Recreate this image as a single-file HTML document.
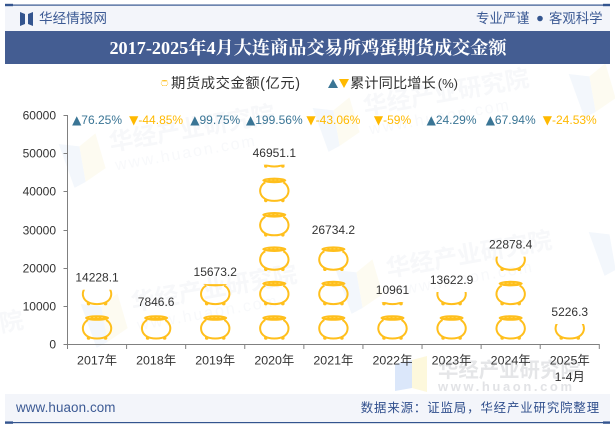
<!DOCTYPE html>
<html lang="zh-CN">
<head>
<meta charset="utf-8">
<title>2017-2025年4月大连商品交易所鸡蛋期货成交金额</title>
<style>
html,body{margin:0;padding:0;background:#fff;}
body{width:615px;height:427px;overflow:hidden;}
svg{display:block;}
text{font-family:"Liberation Sans","Noto Sans CJK SC",sans-serif;}
.wm{font-weight:bold;font-size:24px;fill:#f7f8fa;}
.wm2{font-size:16px;letter-spacing:2px;fill:#f8f9fb;}
</style>
</head>
<body>
<svg id="chart" width="615" height="427" viewBox="0 0 615 427" xmlns="http://www.w3.org/2000/svg">
  <g id="watermarks">
    <g transform="translate(58,140) rotate(-10)">
      <path d="M0 4 L20 10 L20 46 L8 50 Z" fill="#f3f7fc"/><path d="M20 10 L38 0 L42 36 L20 46 Z" fill="#fdfbf1"/>
      <text class="wm" x="50" y="20">华经产业研究院</text><text class="wm2" x="52" y="40">www.huaon.com</text>
    </g>
    <g transform="translate(80,300) rotate(-10)">
      <path d="M0 4 L20 10 L20 46 L8 50 Z" fill="#f3f7fc"/><path d="M20 10 L38 0 L42 36 L20 46 Z" fill="#fdfbf1"/>
      <text class="wm" x="50" y="20">华经产业研究院</text><text class="wm2" x="52" y="40">www.huaon.com</text>
    </g>
    <g transform="translate(312,104) rotate(-10)">
      <path d="M0 4 L20 10 L20 46 L8 50 Z" fill="#f3f7fc"/><path d="M20 10 L38 0 L42 36 L20 46 Z" fill="#fdfbf1"/>
      <text class="wm" x="50" y="20">华经产业研究院</text><text class="wm2" x="52" y="40">www.huaon.com</text>
    </g>
    <g transform="translate(335,266) rotate(-10)">
      <path d="M0 4 L20 10 L20 46 L8 50 Z" fill="#f3f7fc"/><path d="M20 10 L38 0 L42 36 L20 46 Z" fill="#fdfbf1"/>
      <text class="wm" x="50" y="20">华经产业研究院</text><text class="wm2" x="52" y="40">www.huaon.com</text>
    </g>
    <g transform="translate(568,70) rotate(-10)">
      <path d="M0 4 L20 10 L20 46 L8 50 Z" fill="#f3f7fc"/><path d="M20 10 L38 0 L42 36 L20 46 Z" fill="#fdfbf1"/>
    </g>
    <g transform="translate(588,228) rotate(-10)">
      <path d="M0 4 L20 10 L20 46 L8 50 Z" fill="#f3f7fc"/>
    </g>
    <text class="wm" x="1" y="332" transform="rotate(-10 1 332)">院</text>
    <g>
      <path d="M395 364 L412 360 L412 388 L395 391 Z" fill="#dbe7fa"/>
      <path d="M412 360 L427 356 L427 392 L412 388 Z" fill="#fdf8dc"/>
      <text x="438" y="377" font-size="20.4" font-weight="bold" fill="#e5e6e8">华经产业研究院</text>
      <text x="438" y="391" font-size="13" font-weight="bold" fill="#e2e3e6" letter-spacing="2.6">www.huaon.com</text>
    </g>
  </g>

  <g>
    <rect x="5" y="5" width="605" height="26" fill="#f3f5fa"/>
    <rect x="5" y="4.5" width="605" height="1.2" fill="#34558f"/>
    <rect x="5" y="3.8" width="8" height="2.4" fill="#34558f"/>
    <rect x="603" y="3.8" width="7" height="2.4" fill="#34558f"/>
    <path d="M20 12 L25 14 L25 24 L20 26 Z M33 12 L28 14 L28 24 L33 26 Z" fill="#34558f"/>
    <text x="39" y="23" font-size="13.6" fill="#3c5a94">华经情报网</text>
    <text x="476" y="23" font-size="13.4" fill="#3c5a94">专业严谨</text>
    <circle cx="540" cy="18.5" r="2.8" fill="#34558f"/>
    <text x="549" y="23" font-size="13.4" fill="#3c5a94">客观科学</text>
  </g>
  <rect x="5" y="31" width="605" height="33" fill="#445d92"/>
  <text x="308" y="54" text-anchor="middle" font-size="18.2" font-weight="bold" fill="#fff" style="font-family:'Liberation Serif','Noto Serif CJK SC',serif">2017-2025年4月大连商品交易所鸡蛋期货成交金额</text>

  <g>
    <rect x="5" y="394" width="605" height="28" fill="#f3f5fa"/>
    <rect x="5" y="422" width="605" height="1.2" fill="#34558f"/>
    <rect x="5" y="421.4" width="8" height="2.4" fill="#34558f"/>
    <rect x="603" y="421.4" width="7" height="2.4" fill="#34558f"/>
    <text x="16" y="412" font-size="13.4" letter-spacing="0.1" fill="#3c5a94">www.huaon.com</text>
    <text x="600" y="412" text-anchor="end" font-size="12.4" fill="#2f4e8c" letter-spacing="0.9">数据来源：证监局，华经产业研究院整理</text>
  </g>

  <g>
    <g>
      <g id="legend-pot"></g>
      <text x="171" y="88" font-size="14.3" fill="#333" textLength="129" lengthAdjust="spacing">期货成交金额(亿元)</text>
    </g>
    <g>
      <path d="M328 88 L333 79 L338 88 Z" fill="#3a7595"/>
      <path d="M339 79 L349 79 L344 88 Z" fill="#ffb900"/>
      <text x="350" y="88" font-size="14.3" fill="#333">累计同比增长<tspan font-size="13" dx="2">(%)</tspan></text>
    </g>
  </g>

  <g id="plot"></g>
</svg>
<script>
var categories = ["2017年","2018年","2019年","2020年","2021年","2022年","2023年","2024年","2025年"];
var categorySub = ["","","","","","","","","1-4月"];
var turnover = [14228.1,7846.6,15673.2,46951.1,26734.2,10961,13622.9,22878.4,5226.3];
var growth = [76.25,-44.85,99.75,199.56,-43.06,-59,24.29,67.94,-24.53];
var yTicks = [0,10000,20000,30000,40000,50000,60000];

var NS = "http://www.w3.org/2000/svg";
var plot = document.getElementById("plot");
var left = 67.5, right = 599.3, top0 = 115, bottom0 = 344, yMax = 60000;
var POT_STEP = 34.4, GOLD = "#ffbf1c", AXIS = "#808080", INK = "#333333";

function xBand(i){ return left + (right - left) / categories.length * i; }
function xCenter(i){ return xBand(i + 0.5); }
function yScale(v){ return bottom0 - (bottom0 - top0) * v / yMax; }
function make(tag, attrs, parent){
  var el = document.createElementNS(NS, tag);
  for (var k in attrs) el.setAttribute(k, attrs[k]);
  (parent || plot).appendChild(el);
  return el;
}
function drawPot(parent, cx, y, s){
  make("path",{d:"M"+(cx-9*s)+" "+(y+5*s)+" C"+(cx-17*s)+" "+(y+9*s)+" "+(cx-17*s)+" "+(y+23.5*s)+" "+cx+" "+(y+23.5*s)+" C"+(cx+17*s)+" "+(y+23.5*s)+" "+(cx+17*s)+" "+(y+9*s)+" "+(cx+9*s)+" "+(y+5*s),fill:"none",stroke:GOLD,"stroke-width":2*s},parent);
  make("ellipse",{cx:cx,cy:y+3*s,rx:12*s,ry:2.8*s,fill:GOLD},parent);
  make("line",{x1:cx-8*s,x2:cx+8*s,y1:y+2.6*s,y2:y+2.6*s,stroke:"#ffd75e","stroke-width":0.8*s,"stroke-dasharray":(2*s)+" "+(2*s)},parent);
  make("circle",{cx:cx-8.5*s,cy:y+23*s,r:1.8*s,fill:GOLD},parent);
  make("circle",{cx:cx+8.5*s,cy:y+23*s,r:1.8*s,fill:GOLD},parent);
}

var legendPot = document.getElementById("legend-pot");
drawPot(legendPot, 164.5, 80, 0.24);

var defs = make("defs",{});
categories.forEach(function(c,i){
  var v = turnover[i], topY = yScale(v);
  var clip = make("clipPath",{id:"clip-"+i},defs);
  make("rect",{x:xBand(i),y:topY,width:xBand(i+1)-xBand(i),height:bottom0-topY},clip);
  var g = make("g",{"clip-path":"url(#clip-"+i+")"});
  
  
  for (var y = bottom0 - 29; y + 26 > topY; y -= POT_STEP){
    drawPot(g, xCenter(i), y, 1);
  }
  var label = make("text",{x:xCenter(i),y:topY-8,"text-anchor":"middle","font-size":12,fill:INK});
  
  
  label.textContent = String(v);

  var up = growth[i] >= 0;
  var gl = make("text",{x:xCenter(i),y:124,"text-anchor":"middle","font-size":12,fill:up?"#3a7595":"#ffb900"});
  
  
  var arrow = make("tspan",{style:"font-family:'DejaVu Sans',sans-serif"},gl);
  arrow.textContent = up?"▲":"▼";
  var pct = make("tspan",{},gl);
  pct.textContent = growth[i] + "%";

  var xl = make("text",{x:xCenter(i),y:364.5,"text-anchor":"middle","font-size":12.4,fill:INK});
  
  
  xl.textContent = c;
  if (categorySub[i]) {
    var xs = make("text",{x:xCenter(i),y:381,"text-anchor":"middle","font-size":12.4,fill:INK});
    
    
    xs.textContent = categorySub[i];
  }
});

var yAxis = make("line",{x1:left,x2:left,y1:top0,y2:bottom0,stroke:AXIS,"stroke-width":1});


var xAxis = make("line",{x1:left,x2:right,y1:bottom0+0.5,y2:bottom0+0.5,stroke:AXIS,"stroke-width":1});



yTicks.forEach(function(t){
  var y = Math.round(yScale(t)) + 0.5;
  var tick = make("line",{x1:left-4,x2:left,y1:y,y2:y,stroke:AXIS,"stroke-width":1});
  
  
  var tl = make("text",{x:56,y:y+4,"text-anchor":"end","font-size":12,fill:INK});
  
  
  tl.textContent = String(t);
});
for (var i = 0; i <= categories.length; i++){
  var xt = make("line",{x1:xBand(i),x2:xBand(i),y1:bottom0,y2:bottom0+5,stroke:AXIS,"stroke-width":1});
  
  
}
</script>
</body>
</html>
